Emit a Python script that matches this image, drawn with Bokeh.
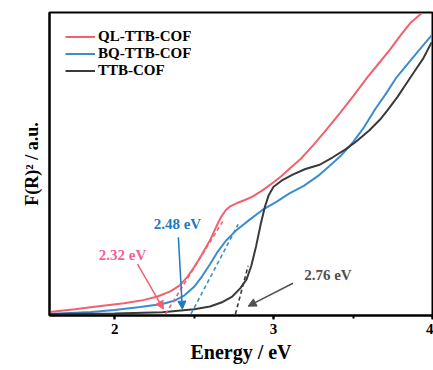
from bokeh.plotting import figure
from bokeh.models import Range1d, Legend, LegendItem, Label, Arrow, NormalHead, SingleIntervalTicker, FixedTicker
from bokeh.embed import file_html
from bokeh.resources import INLINE

# ---- data ----
ql_E = [1.59, 1.75, 1.90, 2.06, 2.18, 2.27, 2.35, 2.41, 2.46, 2.50, 2.55, 2.60, 2.64, 2.67, 2.70,
        2.73, 2.77, 2.82, 2.87, 2.93, 3.00, 3.05, 3.10, 3.17, 3.25, 3.33, 3.42, 3.50, 3.59, 3.66,
        3.73, 3.80, 3.86, 3.93]
ql_F = [0.007, 0.016, 0.026, 0.036, 0.046, 0.058, 0.075, 0.095, 0.125, 0.155, 0.198, 0.245, 0.290,
        0.322, 0.345, 0.358, 0.368, 0.378, 0.390, 0.410, 0.437, 0.458, 0.482, 0.514, 0.560, 0.610,
        0.668, 0.722, 0.785, 0.830, 0.875, 0.925, 0.965, 0.997]

bq_E = [1.59, 1.85, 2.00, 2.16, 2.30, 2.38, 2.44, 2.50, 2.55, 2.60, 2.65, 2.70, 2.76, 2.85, 2.93,
        3.02, 3.10, 3.19, 3.28, 3.35, 3.42, 3.50, 3.57, 3.64, 3.70, 3.77, 3.84, 3.90, 3.994]
bq_F = [0.0, 0.007, 0.013, 0.023, 0.033, 0.045, 0.062, 0.090, 0.125, 0.165, 0.208, 0.243, 0.275,
        0.313, 0.345, 0.373, 0.400, 0.425, 0.458, 0.490, 0.523, 0.570, 0.620, 0.680, 0.725, 0.782,
        0.827, 0.865, 0.924]

ttb_E = [1.59, 2.00, 2.30, 2.50, 2.60, 2.68, 2.74, 2.79, 2.83, 2.86, 2.89, 2.92, 2.945, 2.97, 3.00,
         3.05, 3.12, 3.20, 3.29, 3.37, 3.45, 3.52, 3.60, 3.67, 3.72, 3.78, 3.84, 3.90, 3.94, 3.994]
ttb_F = [0.0, 0.002, 0.006, 0.016, 0.025, 0.040, 0.058, 0.085, 0.115, 0.160, 0.225, 0.300, 0.355,
         0.395, 0.422, 0.442, 0.462, 0.481, 0.495, 0.519, 0.545, 0.572, 0.608, 0.645, 0.678, 0.720,
         0.768, 0.815, 0.846, 0.901]

names = ["QL-TTB-COF", "BQ-TTB-COF", "TTB-COF"]
gaps = [2.32, 2.48, 2.76]            # band-gap intercepts (eV)
tangent_end_E = [2.68, 2.777, 2.84]  # where each tangent line ends
tangent_slope = [0.853, 1.0, 2.0]    # F per eV
gap_labels = ["2.32 eV", "2.48 eV", "2.76 eV"]

line_colors = ["#F2606E", "#3C8DCB", "#3A3A3A"]
text_colors = ["#F2619A", "#1F78C1", "#505050"]
arrow_colors = ["#F2606E", "#1F78C1", "#505050"]

FONT = "Liberation Serif"

p = figure(width=433, height=370, output_backend="svg", toolbar_location=None,
           x_range=Range1d(1.59, 4.0), y_range=Range1d(-0.005, 1.0),
           min_border_left=49, min_border_right=1, min_border_top=12, min_border_bottom=55)
p.background_fill_color = "white"
p.border_fill_color = "white"
p.xgrid.visible = False
p.ygrid.visible = False
p.outline_line_color = "black"
p.outline_line_width = 2

# x axis
p.xaxis.ticker = SingleIntervalTicker(interval=1, num_minor_ticks=2)
p.xaxis.axis_line_width = 2
p.xaxis.axis_line_color = "black"
p.xaxis.major_tick_in = 0
p.xaxis.major_tick_out = 4
p.xaxis.major_tick_line_width = 2
p.xaxis.minor_tick_in = 0
p.xaxis.minor_tick_out = 3
p.xaxis.minor_tick_line_width = 2
p.xaxis.major_label_text_font = FONT
p.xaxis.major_label_text_font_style = "bold"
p.xaxis.major_label_text_font_size = "15px"
p.xaxis.major_label_text_color = "black"
p.xaxis.major_label_standoff = 4
p.xaxis.axis_label = "Energy / eV"
p.xaxis.axis_label_text_font = FONT
p.xaxis.axis_label_text_font_style = "bold"
p.xaxis.axis_label_text_font_size = "20px"
p.xaxis.axis_label_text_color = "black"
p.xaxis.axis_label_standoff = 4

# y axis (no ticks / labels)
p.yaxis.ticker = FixedTicker(ticks=[])
p.yaxis.axis_line_width = 2
p.yaxis.axis_line_color = "black"
p.yaxis.major_tick_line_color = None
p.yaxis.minor_tick_line_color = None
p.yaxis.major_tick_in = 0
p.yaxis.major_tick_out = 0
p.yaxis.major_label_standoff = 0
p.yaxis.axis_label = "F(R)\u00b2 / a.u."
p.yaxis.axis_label_text_font = FONT
p.yaxis.axis_label_text_font_style = "bold"
p.yaxis.axis_label_text_font_size = "18px"
p.yaxis.axis_label_text_color = "black"
p.yaxis.axis_label_standoff = 8

series = [(ql_E, ql_F), (bq_E, bq_F), (ttb_E, ttb_F)]
renderers = []
for (xs, ys), c in zip(series, line_colors):
    r = p.line(xs, ys, line_color=c, line_width=2)
    renderers.append(r)

# tangent (dashed) lines
for g, e_end, s, c in zip(gaps, tangent_end_E, tangent_slope, line_colors):
    p.line([g, e_end], [0.0, s * (e_end - g)], line_color=c, line_width=1.6, line_dash="4 3")

# annotations: gap labels and arrows (data coordinates)
label_pos = [(2.05, 0.195), (2.395, 0.297), (3.342, 0.129)]
arrow_start = [(2.144, 0.165), (2.401, 0.254), (3.122, 0.102)]
arrow_end = [(2.307, 0.016), (2.426, 0.016), (2.840, 0.026)]
for t, (lx, ly), (sx, sy), (ex, ey), tc, ac in zip(gap_labels, label_pos, arrow_start, arrow_end,
                                                   text_colors, arrow_colors):
    p.add_layout(Label(x=lx, y=ly, text=t, text_font=FONT, text_font_style="bold",
                       text_font_size="15px", text_color=tc, text_align="center",
                       text_baseline="middle"))
    p.add_layout(Arrow(x_start=sx, y_start=sy, x_end=ex, y_end=ey,
                       line_color=ac, line_width=1.5,
                       end=NormalHead(size=8, fill_color=ac, line_color=ac)))

legend = Legend(items=[LegendItem(label=n, renderers=[r]) for n, r in zip(names, renderers)],
                location="top_left")
legend.border_line_color = None
legend.background_fill_alpha = 0
legend.label_text_font = FONT
legend.label_text_font_style = "bold"
legend.label_text_font_size = "15px"
legend.label_text_color = "black"
legend.glyph_width = 30
legend.glyph_height = 17
legend.label_height = 17
legend.label_standoff = 3
legend.spacing = 0
legend.margin = 16
legend.padding = 8
p.add_layout(legend)

open("out.html", "w").write(file_html(p, INLINE))
